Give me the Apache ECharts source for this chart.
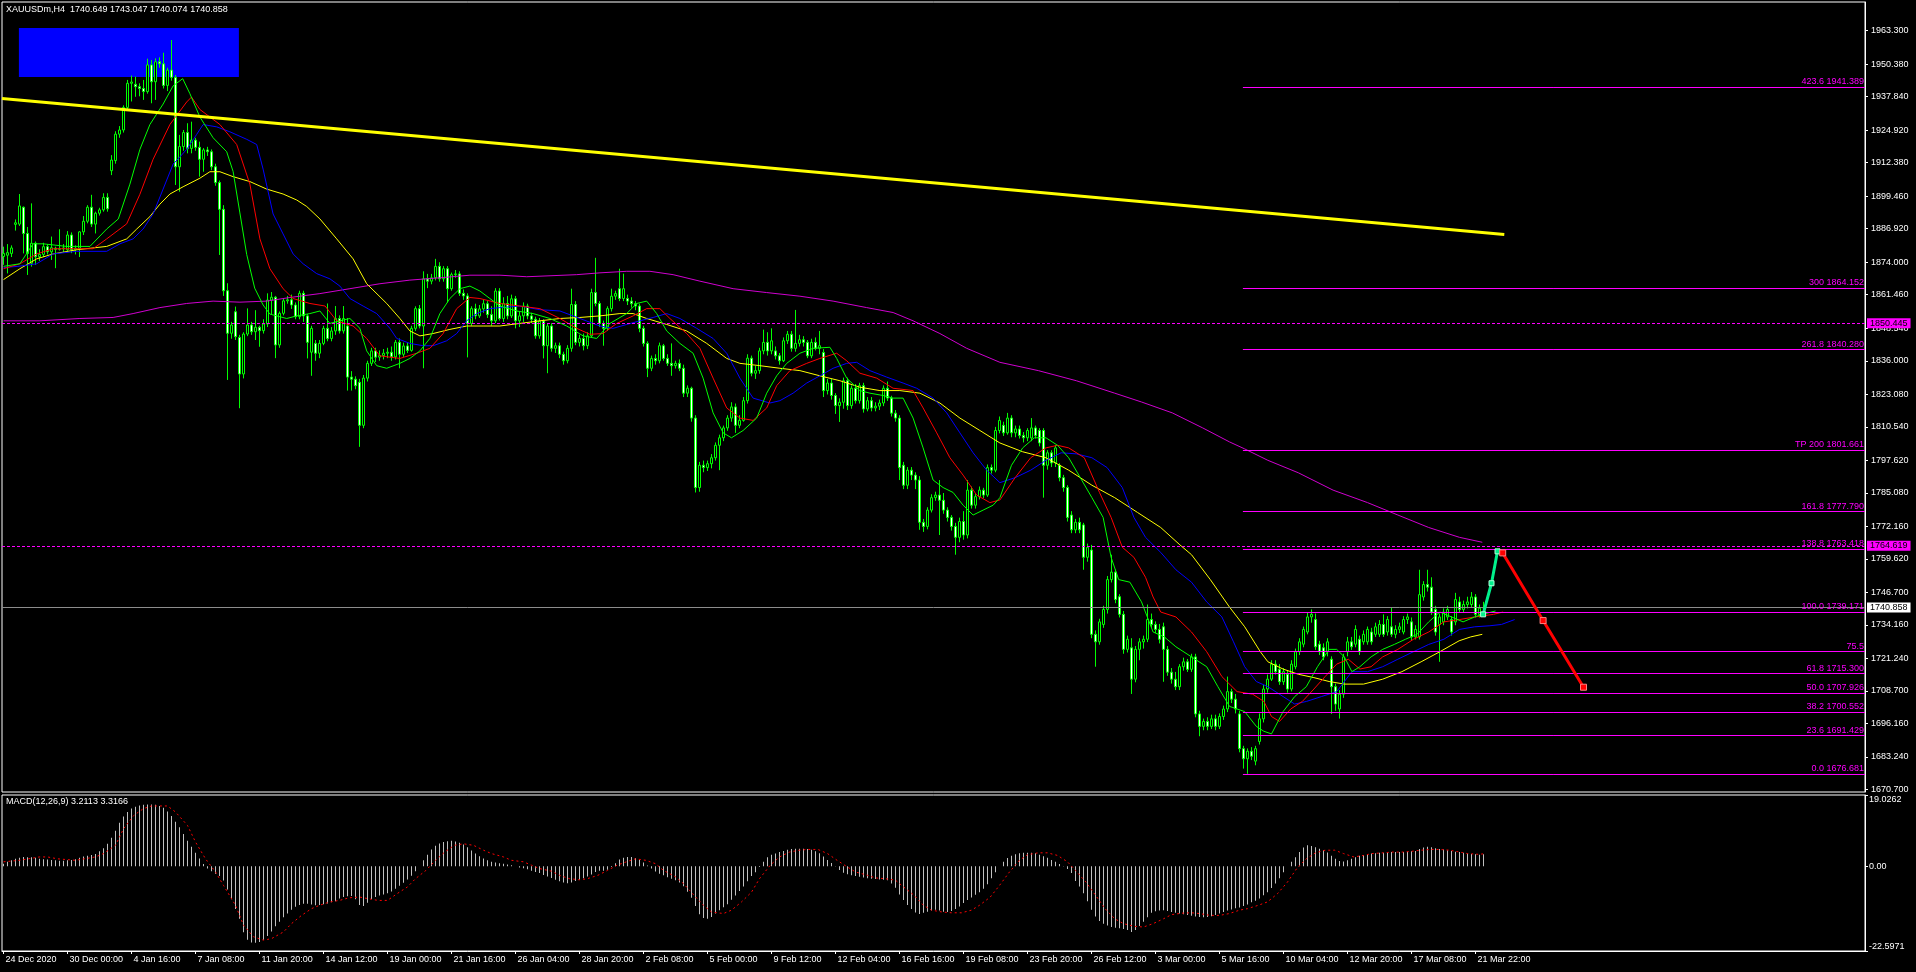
<!DOCTYPE html>
<html><head><meta charset="utf-8">
<script src="https://cdn.jsdelivr.net/npm/echarts@6/dist/echarts.min.js"></script>
<style>html,body{margin:0;padding:0;background:#000;}#c{width:1916px;height:972px;}</style>
</head><body><div id="c"></div>
<script>
// ---------------- DATA ----------------
const symbolName = 'XAUUSDm,H4';
const lastQuote = [1740.649, 1743.047, 1740.074, 1740.858];

// [open, close, low, high] per H4 bar
const ohlc = [
[1876.2,1877.4,1873.0,1880.0],[1876.7,1877.7,1869.7,1881.0],[1877.4,1879.5,1876.0,1880.5],[1888.6,1889.2,1886.2,1890.5],[1888.7,1895.7,1888.0,1900.3],
[1895.2,1885.1,1877.4,1895.5],[1885.1,1877.4,1869.1,1887.6],[1873.6,1881.3,1872.3,1896.7],[1881.3,1876.1,1873.0,1882.0],[1876.1,1877.0,1874.5,1879.0],
[1877.0,1880.0,1876.0,1881.5],[1880.0,1878.0,1877.0,1881.0],[1878.0,1879.6,1874.9,1883.9],[1879.4,1879.0,1871.7,1880.0],[1879.0,1879.2,1878.5,1886.7],
[1879.2,1879.5,1878.0,1881.0],[1878.8,1884.5,1878.0,1886.0],[1884.5,1878.8,1877.5,1885.5],[1878.8,1879.4,1877.0,1880.5],[1879.4,1885.7,1876.0,1886.0],
[1885.7,1889.8,1884.5,1891.8],[1889.8,1895.2,1889.0,1896.0],[1895.2,1888.7,1887.6,1900.0],[1888.7,1892.9,1885.1,1893.5],[1892.9,1894.2,1892.0,1895.0],
[1894.2,1899.0,1893.5,1900.6],[1899.0,1894.6,1893.5,1900.6],[1909.3,1913.4,1907.6,1915.3],[1913.2,1923.4,1912.0,1924.5],[1923.4,1925.0,1922.0,1926.5],
[1925.0,1933.7,1924.0,1934.5],[1933.7,1943.0,1933.0,1944.3],[1943.0,1943.5,1936.0,1946.0],[1942.6,1941.7,1937.8,1945.6],[1941.7,1941.0,1938.0,1943.0],
[1941.0,1939.8,1936.6,1944.3],[1939.8,1950.1,1939.0,1952.5],[1950.1,1943.6,1935.3,1952.0],[1943.6,1951.3,1936.6,1952.6],[1951.3,1950.5,1949.0,1953.0],
[1950.5,1942.2,1941.0,1954.8],[1942.2,1948.1,1940.0,1949.0],[1948.1,1945.3,1944.0,1959.7],[1945.3,1910.8,1903.8,1946.2],[1910.8,1918.6,1901.2,1923.1],
[1918.6,1924.0,1917.0,1925.0],[1924.0,1917.9,1916.0,1927.6],[1917.9,1921.1,1916.0,1928.2],[1921.1,1918.3,1917.0,1922.0],[1918.3,1913.7,1907.0,1920.5],
[1913.7,1917.3,1908.9,1918.0],[1917.3,1916.6,1915.0,1918.5],[1916.6,1910.8,1909.5,1917.5],[1910.8,1904.7,1903.5,1912.0],[1904.7,1894.4,1876.8,1905.5],
[1894.4,1863.0,1861.0,1896.0],[1863.0,1846.6,1828.6,1865.9],[1846.6,1849.8,1844.5,1851.0],[1854.9,1845.3,1844.0,1856.9],[1845.0,1830.9,1817.7,1846.0],
[1830.9,1846.3,1829.2,1847.0],[1846.3,1849.8,1845.5,1856.2],[1849.8,1847.2,1846.0,1851.0],[1847.2,1848.9,1844.0,1855.5],[1848.9,1847.6,1841.4,1849.5],
[1847.6,1850.2,1846.5,1852.0],[1850.2,1859.4,1849.0,1862.0],[1859.4,1860.5,1854.0,1862.5],[1860.5,1842.1,1837.0,1861.0],[1842.1,1854.3,1841.0,1855.0],
[1854.3,1859.1,1853.5,1860.0],[1859.1,1859.5,1858.0,1861.0],[1859.5,1857.5,1856.0,1861.5],[1857.5,1853.0,1852.0,1858.5],[1853.0,1862.0,1852.0,1863.0],
[1862.0,1853.3,1851.0,1863.0],[1853.3,1843.1,1836.9,1854.0],[1839.3,1848.5,1830.2,1849.5],[1842.7,1838.9,1836.0,1844.0],[1838.9,1842.7,1837.0,1844.0],
[1842.7,1848.5,1842.0,1849.5],[1848.5,1844.6,1843.5,1858.1],[1844.6,1847.5,1843.5,1849.0],[1847.5,1852.3,1846.0,1857.1],[1852.3,1847.5,1846.5,1853.5],
[1847.5,1852.3,1846.5,1857.1],[1849.4,1829.7,1824.5,1852.5],[1829.7,1828.9,1824.5,1832.0],[1828.9,1826.4,1825.0,1830.0],[1827.7,1811.1,1802.8,1829.0],
[1811.1,1829.3,1810.0,1830.5],[1829.3,1835.0,1828.0,1836.0],[1835.0,1839.8,1834.0,1841.0],[1839.8,1837.4,1835.5,1841.0],[1837.4,1838.0,1836.0,1840.0],
[1838.0,1838.9,1836.5,1840.5],[1838.9,1839.3,1837.0,1841.0],[1839.3,1837.5,1836.0,1841.5],[1837.5,1843.1,1836.5,1844.0],[1843.1,1838.5,1833.1,1844.6],
[1838.5,1841.7,1837.5,1843.0],[1841.7,1840.0,1839.0,1843.0],[1840.0,1848.5,1839.5,1849.5],[1848.5,1856.1,1847.5,1857.0],[1856.1,1849.4,1848.5,1857.5],
[1849.4,1867.6,1833.1,1870.5],[1867.6,1866.7,1864.0,1869.5],[1866.7,1868.0,1865.5,1869.5],[1868.0,1872.4,1867.0,1875.3],[1872.4,1867.6,1866.5,1874.0],
[1867.6,1871.5,1866.5,1872.5],[1871.5,1863.8,1858.4,1872.5],[1863.8,1869.2,1863.0,1870.0],[1869.2,1869.5,1868.0,1871.0],[1869.5,1862.0,1861.0,1870.5],
[1862.0,1861.0,1859.5,1863.5],[1861.0,1850.4,1837.3,1862.0],[1850.4,1856.1,1849.5,1857.0],[1856.1,1853.3,1852.0,1858.0],[1853.3,1856.0,1852.5,1857.5],
[1856.0,1858.0,1854.5,1859.5],[1858.0,1853.8,1852.5,1859.0],[1853.8,1851.4,1849.5,1857.0],[1851.4,1862.9,1850.5,1864.0],[1862.9,1852.3,1851.5,1864.0],
[1852.3,1858.1,1851.0,1860.5],[1858.1,1853.3,1852.0,1861.0],[1853.3,1859.9,1852.5,1861.5],[1859.9,1851.4,1848.5,1861.0],[1851.4,1853.3,1849.0,1855.0],
[1853.3,1857.1,1851.0,1858.5],[1857.1,1853.3,1852.0,1858.0],[1853.3,1852.0,1850.5,1854.5],[1852.0,1845.6,1844.5,1853.0],[1845.6,1851.3,1844.5,1852.5],
[1851.3,1841.8,1836.9,1852.0],[1841.8,1849.4,1831.2,1850.5],[1849.4,1840.8,1839.5,1850.5],[1840.8,1841.8,1839.0,1843.0],[1841.8,1838.5,1837.0,1843.0],
[1838.5,1836.0,1834.5,1839.5],[1836.0,1840.8,1835.0,1842.0],[1840.8,1857.7,1839.5,1863.8],[1857.7,1843.1,1842.0,1859.0],[1843.1,1844.6,1841.5,1846.0],
[1844.6,1841.8,1840.0,1846.5],[1841.8,1845.6,1840.5,1847.0],[1845.6,1862.3,1845.0,1863.8],[1862.3,1858.1,1857.0,1875.7],[1858.1,1850.4,1849.0,1859.0],
[1850.4,1848.5,1841.8,1851.5],[1848.5,1856.1,1847.5,1857.0],[1856.1,1860.9,1855.0,1863.8],[1860.9,1861.9,1859.5,1863.0],[1863.8,1860.0,1859.0,1871.5],
[1860.0,1863.8,1859.0,1869.6],[1860.0,1859.0,1857.5,1861.5],[1859.0,1858.0,1856.5,1860.5],[1858.0,1857.1,1855.5,1859.0],[1857.1,1848.5,1847.0,1858.0],
[1848.5,1842.7,1841.5,1849.5],[1842.7,1833.1,1829.7,1843.5],[1833.1,1836.9,1832.0,1838.0],[1836.9,1836.0,1834.5,1838.5],[1836.0,1841.8,1835.0,1843.0],
[1841.8,1836.9,1836.0,1842.5],[1836.9,1835.0,1834.0,1838.5],[1835.0,1834.1,1830.2,1842.7],[1834.1,1835.0,1833.0,1836.0],[1835.0,1833.1,1832.0,1836.5],
[1833.1,1823.5,1822.0,1834.5],[1823.5,1825.4,1822.0,1826.5],[1825.4,1813.9,1812.5,1826.0],[1813.9,1787.1,1785.2,1815.0],[1787.1,1795.7,1785.5,1797.0],
[1795.7,1794.8,1793.0,1797.5],[1794.8,1796.3,1793.5,1797.5],[1796.3,1798.6,1794.5,1800.0],[1798.6,1803.4,1797.5,1804.5],[1803.4,1806.3,1793.8,1807.5],
[1806.3,1810.1,1805.0,1811.0],[1810.1,1813.9,1809.0,1815.0],[1813.9,1818.2,1812.5,1820.0],[1818.2,1811.1,1808.2,1819.5],[1811.1,1813.0,1810.0,1815.0],
[1813.0,1820.6,1812.5,1822.0],[1820.6,1837.0,1819.5,1838.5],[1837.0,1831.2,1830.0,1838.0],[1831.2,1832.2,1829.0,1834.0],[1832.2,1839.8,1831.0,1841.0],
[1839.8,1843.1,1838.5,1848.0],[1843.1,1839.8,1838.0,1847.0],[1839.8,1843.7,1838.5,1848.5],[1839.8,1837.9,1836.5,1841.5],[1837.9,1836.0,1834.5,1839.0],
[1836.0,1843.7,1835.5,1845.0],[1843.7,1846.2,1842.5,1847.5],[1846.2,1840.8,1839.5,1847.5],[1840.8,1842.7,1839.5,1855.6],[1842.7,1844.1,1841.5,1846.0],
[1844.1,1843.1,1841.5,1845.5],[1843.1,1837.9,1837.0,1844.0],[1837.9,1843.1,1837.0,1844.5],[1843.1,1840.8,1840.0,1845.0],[1840.8,1841.8,1838.5,1847.5],
[1839.2,1824.5,1822.0,1840.5],[1824.5,1827.4,1823.0,1829.0],[1827.4,1822.6,1821.0,1829.0],[1822.6,1818.7,1815.5,1823.5],[1818.7,1820.0,1812.4,1821.5],
[1820.0,1828.3,1817.5,1829.5],[1828.3,1818.7,1817.0,1829.5],[1818.7,1825.4,1817.5,1826.5],[1825.4,1820.6,1819.5,1827.0],[1820.6,1826.4,1819.5,1827.5],
[1826.4,1817.4,1816.0,1827.5],[1817.4,1820.6,1816.5,1822.0],[1820.6,1817.8,1816.5,1822.0],[1817.8,1818.5,1816.5,1820.0],[1818.5,1819.7,1817.0,1821.0],
[1819.7,1825.4,1818.5,1826.5],[1825.4,1821.6,1820.5,1828.0],[1821.6,1815.8,1814.5,1822.5],[1815.8,1813.9,1812.5,1817.0],[1813.9,1794.8,1790.0,1815.0],
[1795.7,1788.0,1786.5,1797.0],[1788.0,1793.8,1786.5,1795.0],[1793.8,1791.9,1790.0,1795.0],[1791.9,1790.0,1786.5,1793.0],[1790.0,1773.7,1770.8,1791.5],
[1773.7,1772.1,1770.0,1775.0],[1772.1,1778.4,1771.0,1779.5],[1778.4,1783.2,1777.5,1784.5],[1783.2,1784.2,1782.0,1785.5],[1784.2,1782.2,1768.8,1790.0],
[1782.2,1778.4,1777.0,1785.0],[1778.4,1775.6,1774.0,1779.5],[1775.6,1772.1,1770.5,1776.5],[1772.1,1767.9,1761.2,1773.5],[1767.9,1774.0,1766.0,1775.5],
[1774.0,1768.8,1767.0,1778.0],[1768.8,1786.1,1767.5,1790.0],[1786.1,1780.3,1779.0,1787.5],[1780.3,1783.6,1779.0,1785.0],[1783.6,1786.1,1782.5,1787.5],
[1786.1,1784.2,1783.0,1787.0],[1784.2,1794.8,1783.5,1796.0],[1794.8,1793.8,1792.5,1796.0],[1793.8,1809.1,1793.0,1810.5],[1809.1,1813.0,1808.0,1814.5],
[1811.1,1808.2,1807.0,1812.5],[1808.2,1813.9,1807.5,1815.9],[1813.9,1808.2,1806.5,1815.0],[1808.2,1809.7,1806.5,1811.0],[1809.7,1807.2,1806.0,1811.0],
[1807.2,1806.3,1804.5,1808.5],[1806.3,1809.1,1805.0,1810.0],[1806.2,1810.1,1805.0,1813.9],[1810.1,1807.2,1806.0,1811.0],[1809.1,1804.3,1803.0,1810.0],
[1809.1,1795.7,1783.2,1810.0],[1795.7,1800.5,1794.0,1801.5],[1800.5,1796.6,1795.0,1801.5],[1796.6,1802.4,1795.0,1803.5],[1795.7,1790.9,1789.5,1796.5],
[1790.9,1787.1,1785.5,1792.0],[1787.1,1775.6,1774.0,1788.0],[1776.5,1770.8,1769.5,1778.0],[1770.8,1773.7,1769.5,1775.0],[1773.7,1770.8,1769.5,1775.5],
[1772.7,1760.2,1755.4,1773.5],[1760.2,1764.0,1758.5,1765.5],[1763.0,1730.5,1729.0,1765.0],[1730.5,1727.6,1718.0,1732.0],[1727.6,1735.3,1726.5,1736.5],
[1734.3,1740.1,1733.0,1741.5],[1740.1,1751.6,1738.5,1753.0],[1751.6,1754.5,1750.5,1761.2],[1754.5,1743.9,1742.5,1755.5],[1745.0,1738.2,1737.0,1746.0],
[1738.2,1724.7,1723.0,1739.5],[1724.7,1728.6,1723.5,1730.0],[1725.3,1713.2,1707.5,1729.0],[1713.2,1724.7,1712.0,1726.0],[1724.7,1727.6,1720.5,1729.0],
[1727.6,1728.6,1725.0,1730.0],[1728.6,1736.2,1727.5,1742.0],[1736.2,1734.3,1733.0,1738.5],[1734.3,1732.4,1731.0,1735.5],[1732.4,1728.6,1727.0,1734.5],
[1733.4,1724.7,1712.2,1735.0],[1724.7,1715.9,1714.5,1726.0],[1715.9,1713.2,1711.5,1717.5],[1713.2,1710.3,1709.0,1716.0],[1710.3,1718.0,1709.0,1719.0],
[1718.0,1719.9,1716.5,1721.5],[1719.9,1717.0,1716.0,1721.0],[1717.0,1721.8,1716.0,1723.0],[1721.8,1699.8,1698.5,1723.0],[1699.8,1695.0,1691.2,1701.0],
[1695.0,1696.9,1693.5,1698.0],[1696.9,1695.0,1693.5,1698.5],[1695.0,1697.9,1694.0,1699.5],[1697.9,1695.0,1693.5,1699.5],[1695.0,1698.8,1694.0,1700.0],
[1698.8,1701.7,1697.5,1703.0],[1701.7,1708.4,1700.5,1714.2],[1708.4,1705.5,1704.0,1709.5],[1705.5,1701.7,1700.0,1707.5],[1699.8,1686.4,1685.0,1701.0],
[1686.4,1682.5,1678.7,1687.5],[1682.5,1685.4,1676.7,1686.5],[1685.4,1683.5,1682.0,1687.0],[1681.6,1686.4,1680.0,1687.5],[1689.2,1697.9,1688.0,1700.0],
[1697.9,1709.4,1696.5,1711.0],[1709.4,1713.2,1708.0,1715.0],[1713.2,1719.0,1712.5,1720.5],[1719.0,1716.1,1715.0,1720.5],[1717.0,1712.2,1711.0,1719.0],
[1712.2,1716.1,1711.0,1717.5],[1715.1,1709.4,1708.0,1716.5],[1709.4,1719.0,1708.5,1720.5],[1718.0,1723.8,1717.0,1725.0],[1723.8,1727.6,1722.5,1729.0],
[1726.7,1732.4,1725.5,1733.5],[1731.4,1737.2,1730.5,1739.0],[1737.2,1738.2,1735.0,1740.1],[1736.2,1725.7,1724.5,1738.5],[1726.7,1723.8,1722.5,1728.0],
[1725.3,1721.8,1720.5,1727.0],[1723.8,1727.6,1722.0,1729.0],[1720.9,1710.3,1699.8,1722.0],[1710.3,1703.6,1701.0,1711.5],[1701.7,1707.4,1698.0,1709.0],
[1707.4,1721.8,1706.0,1723.0],[1723.8,1727.6,1722.0,1729.5],[1727.6,1725.7,1724.5,1729.5],[1726.7,1732.4,1725.5,1734.0],[1728.6,1723.8,1722.5,1730.0],
[1727.6,1730.5,1726.5,1732.0],[1727.6,1732.4,1726.5,1733.5],[1731.4,1727.6,1726.5,1733.0],[1730.5,1733.4,1729.5,1735.0],[1730.5,1734.3,1729.5,1736.0],
[1734.3,1730.5,1729.5,1738.2],[1731.4,1736.2,1730.0,1737.5],[1733.4,1730.5,1729.5,1741.0],[1730.5,1732.4,1729.0,1734.0],[1732.4,1733.4,1731.0,1735.0],
[1731.4,1736.2,1730.5,1737.5],[1736.2,1737.2,1734.5,1738.5],[1735.3,1729.5,1728.0,1737.0],[1729.5,1732.4,1728.5,1734.0],[1729.5,1745.8,1728.5,1755.4],
[1744.9,1749.7,1743.5,1751.0],[1749.7,1748.7,1747.0,1755.4],[1748.7,1739.1,1738.0,1752.5],[1740.1,1731.4,1730.0,1741.5],[1734.3,1737.2,1719.9,1738.5],
[1735.3,1739.1,1734.0,1740.5],[1737.2,1740.1,1736.0,1741.5],[1736.2,1731.4,1730.0,1737.5],[1735.3,1743.9,1734.0,1746.5],[1743.0,1740.1,1739.0,1745.0],
[1740.1,1742.0,1739.0,1743.5],[1742.0,1743.0,1740.5,1745.0],[1742.0,1744.9,1741.0,1746.8],[1744.9,1738.2,1737.0,1746.0],[1738.2,1740.6,1737.0,1742.0],
[1740.649,1740.858,1740.074,1743.047]
];

const xTickBars = [0,16,32,48,64,80,96,112,128,144,160,176,192,208,224,240,256,272,288,304,320,336,352,368];
const xTickLabels = ['24 Dec 2020','30 Dec 00:00','4 Jan 16:00','7 Jan 08:00','11 Jan 20:00','14 Jan 12:00','19 Jan 00:00','21 Jan 16:00','26 Jan 04:00','28 Jan 20:00','2 Feb 08:00','5 Feb 00:00','9 Feb 12:00','12 Feb 04:00','16 Feb 16:00','19 Feb 08:00','23 Feb 20:00','26 Feb 12:00','3 Mar 00:00','5 Mar 16:00','10 Mar 04:00','12 Mar 20:00','17 Mar 08:00','21 Mar 22:00'];
const priceTicks = [1963.300,1950.380,1937.840,1924.920,1912.380,1899.460,1886.920,1874.000,1861.460,1848.540,1836.000,1823.080,1810.540,1797.620,1785.080,1772.160,1759.620,1746.700,1734.160,1721.240,1708.700,1696.160,1683.240,1670.700];
const macdTicks = [-22.5971, 0, 19.0262];

// Alligator lines (lips green, teeth red, jaw blue) and moving averages, read as [bar, price]
const maGreen = [[0,1872.4],[4.1,1873.4],[7.4,1881.1],[9.9,1881.1],[15.8,1880.1],[21.6,1880.1],[25.8,1886.8],[28.7,1890.7],[31.6,1904.1],[34.1,1917.5],[36.6,1927.1],[39.9,1935.0],[42.4,1942.0],[44.8,1944.8],[46.6,1939.0],[49.1,1930.0],[52.4,1922.0],[55.8,1916.6],[57.4,1909.0],[59.1,1893.0],[60.8,1877.0],[62.8,1864.0],[64.9,1857.5],[66.6,1854.0],[68.3,1853.3],[70.8,1852.3],[73.3,1853.3],[76.6,1854.2],[79.1,1855.2],[81.6,1850.4],[84.1,1851.4],[86.6,1852.3],[89.1,1848.5],[90.8,1839.8],[93.3,1834.1],[95.8,1833.1],[99.1,1835.0],[101.6,1836.9],[104.1,1839.8],[106.6,1844.6],[109.1,1854.2],[111.6,1860.0],[114.1,1863.8],[116.6,1864.8],[119.1,1862.9],[121.6,1860.0],[124.1,1857.1],[128.3,1855.2],[132.4,1854.2],[136.6,1852.3],[140.8,1849.4],[144.9,1845.6],[148.3,1844.6],[151.6,1850.4],[155.8,1854.2],[158.3,1858.1],[160.8,1859.0],[163.3,1854.2],[165.8,1847.5],[169.1,1842.7],[172.4,1838.9],[174.9,1829.3],[177.4,1815.9],[179.9,1808.2],[182,1806.3],[184.9,1809.1],[188.3,1813.9],[190.8,1823.5],[193.3,1830.2],[195.8,1835.0],[199.1,1838.9],[202.4,1840.8],[206.6,1841.2],[208.3,1836.9],[210.8,1829.3],[214.1,1824.5],[216.6,1823.5],[219.9,1822.6],[222.4,1821.6],[224.9,1821.6],[227.4,1813.9],[229.9,1802.4],[232.4,1790.0],[234.9,1787.1],[237.4,1785.2],[239.9,1780.3],[242.4,1776.5],[244.9,1778.4],[247.4,1780.3],[249.1,1783.2],[252,1795.7],[254.8,1802.4],[257.7,1806.3],[260.6,1806.3],[263.5,1803.4],[266.3,1798.6],[269.2,1790.9],[272.1,1783.2],[274.9,1775.6],[276.9,1760.2],[278.8,1751.6],[281.6,1750.6],[284.5,1743.0],[287.4,1731.4],[290.2,1729.5],[293.1,1725.7],[297,1721.8],[300.8,1718.0],[303.6,1710.3],[306.5,1702.7],[310.3,1700.7],[313.2,1695.0],[315.1,1693.1],[317,1692.1],[319.9,1700.7],[322.8,1706.5],[325.7,1710.3],[328.5,1718.0],[331.4,1724.7],[333.3,1724.7],[335.2,1721.8],[337.1,1716.1],[339.1,1718.0],[341.9,1721.8],[344.8,1724.7],[347.7,1726.6],[350.5,1728.6],[353.4,1730.5],[356.3,1735.3],[359.1,1739.1],[362,1737.2],[364.9,1735.3],[367.8,1737.2],[369.7,1738.2],[373,1739.5]];
const maRed = [[0,1871.5],[4.1,1873.4],[8.3,1877.2],[12.4,1879.2],[22.4,1879.2],[25.8,1883.0],[30.8,1888.8],[34.1,1900.2],[37.4,1913.7],[41.6,1927.1],[45.8,1935.8],[47,1937.7],[49.1,1932.9],[54.1,1927.1],[58.3,1919.4],[61.6,1904.1],[64.1,1883.0],[66.6,1871.5],[69.9,1863.8],[72.4,1860.0],[76.6,1858.1],[80.4,1857.1],[83.3,1851.4],[87.4,1849.4],[90.8,1844.6],[94.1,1837.9],[99.1,1836.9],[103.3,1838.9],[106.6,1840.8],[109.9,1846.5],[113.3,1856.1],[116.6,1860.4],[119.1,1860.0],[124.1,1858.1],[129.1,1857.1],[134.1,1856.1],[139.1,1852.3],[143.3,1848.5],[146.6,1846.2],[149.9,1846.5],[153.3,1850.4],[157.4,1853.3],[160.8,1856.1],[164.1,1856.1],[166.6,1852.3],[170.8,1846.5],[174.1,1840.8],[177.4,1829.3],[180.8,1817.8],[184.1,1813.9],[187.4,1813.0],[190.8,1817.8],[193.3,1826.4],[196.6,1832.2],[200.8,1835.0],[204.1,1836.9],[208.3,1838.9],[210.8,1836.0],[214.1,1831.2],[218.3,1829.3],[222.4,1825.4],[227.4,1824.5],[229.9,1817.8],[233.3,1808.2],[236.6,1798.6],[239.9,1791.9],[243.3,1784.2],[246.6,1781.3],[249.1,1782.3],[252.9,1790.9],[256.8,1798.6],[260.6,1802.4],[263.5,1803.4],[266.3,1802.4],[270.2,1798.6],[274,1785.2],[276.9,1775.6],[279.7,1764.1],[282.6,1760.2],[285.5,1752.5],[287.4,1744.9],[289.3,1739.1],[293.1,1737.2],[297,1731.4],[300.8,1723.8],[304.6,1714.2],[308.4,1708.4],[312.3,1707.4],[315.1,1704.6],[317,1698.8],[319,1696.9],[321.8,1701.7],[324.7,1704.6],[327.6,1709.4],[330.4,1714.2],[333.3,1719.0],[336.2,1720.9],[339.1,1717.1],[341.9,1718.0],[344.8,1721.8],[348.6,1724.7],[352.5,1728.6],[356.3,1731.4],[360.1,1735.3],[364,1736.2],[367.8,1737.2],[372.5,1738.2],[374.9,1739.1]];
const maBlue = [[0,1871.9],[4.1,1872.5],[8.3,1873.4],[12.4,1877.2],[18.3,1878.2],[25.8,1878.2],[29.1,1881.1],[32.4,1883.0],[34.9,1886.8],[37.4,1892.6],[39.9,1902.2],[42.4,1911.8],[45.8,1917.5],[48.3,1923.3],[49.9,1927.1],[53.3,1926.2],[56.6,1924.3],[60.8,1921.4],[63.3,1919.4],[64.9,1909.9],[67.4,1892.6],[69.9,1884.9],[72.4,1877.2],[74.9,1873.4],[78.3,1869.6],[81.6,1867.6],[84.1,1864.8],[86.6,1860.0],[89.9,1857.1],[93.3,1854.2],[96.6,1848.5],[98.3,1844.6],[101.6,1842.7],[104.9,1841.8],[107.4,1841.8],[110.8,1843.7],[113.3,1846.5],[115.8,1851.4],[118.3,1854.2],[121.6,1856.1],[124.1,1856.5],[129.1,1857.1],[134.1,1855.7],[139.1,1855.2],[144.1,1852.3],[149.1,1849.4],[152.4,1848.5],[155.8,1850.0],[159.1,1851.4],[162.4,1852.7],[165.8,1854.2],[169.1,1852.3],[173.3,1848.5],[177.4,1844.6],[180.8,1838.9],[184.1,1829.3],[187.4,1821.6],[191.6,1819.7],[194.1,1820.6],[197.4,1823.5],[200.8,1827.4],[204.1,1830.2],[207.4,1833.1],[210.8,1835.0],[213.3,1835.4],[216.6,1832.2],[220.8,1829.7],[224.9,1827.4],[228.3,1825.4],[232.4,1821.6],[235.8,1815.9],[239.1,1808.2],[242.4,1800.5],[245.8,1793.8],[249.1,1789.0],[252.9,1790.9],[256.8,1793.8],[260.6,1797.6],[264.4,1800.5],[268.2,1800.1],[272.1,1798.6],[275.9,1794.8],[279.7,1787.1],[282.6,1775.6],[285.5,1767.9],[289.3,1762.1],[293.1,1755.4],[297,1750.6],[300.8,1743.0],[304.6,1737.2],[307.5,1727.6],[310.3,1718.0],[313.2,1712.3],[316.1,1710.3],[319.9,1706.5],[322.8,1703.6],[325.7,1704.6],[329.5,1706.5],[333.3,1708.4],[337.1,1716.1],[341,1716.1],[344.8,1718.0],[348.6,1720.9],[352.5,1723.8],[356.3,1726.6],[360.1,1728.6],[364,1732.4],[367.8,1733.4],[371.6,1733.8],[374.5,1734.3],[377.8,1736.2]];
const maYellow = [[0,1867.3],[4.1,1871.5],[8.3,1875.3],[12.4,1877.2],[18.3,1878.8],[25.8,1880.1],[30.8,1883.0],[33.3,1886.8],[36.6,1891.6],[39.1,1896.4],[41.6,1900.3],[44.9,1903.1],[49.1,1906.4],[51.6,1908.9],[54.1,1908.9],[57.4,1907.0],[61.6,1905.1],[65.8,1902.2],[69.9,1900.3],[73.3,1898.0],[75.8,1895.5],[79.1,1890.7],[83.3,1883.0],[87.4,1875.3],[90.8,1865.7],[95.8,1858.1],[99.1,1852.3],[101.6,1847.5],[104.1,1845.6],[107.4,1846.5],[111.6,1848.1],[115.8,1849.4],[119.9,1849.4],[124.1,1849.4],[129.1,1850.4],[134.1,1851.4],[139.1,1852.3],[144.1,1852.7],[149.1,1853.3],[154.1,1854.2],[157.4,1854.2],[160.8,1852.3],[165.8,1850.0],[170.8,1847.5],[175.8,1842.7],[180.8,1836.9],[184.1,1835.0],[189.1,1834.1],[194.1,1833.1],[199.1,1832.2],[204.1,1830.2],[209.1,1828.3],[214.1,1825.8],[219.1,1824.5],[224.1,1824.5],[229.1,1823.5],[234.1,1819.7],[239.1,1813.9],[244.1,1809.1],[249.1,1804.3],[254.8,1800.9],[260.6,1798.6],[266.3,1793.8],[272.1,1788.0],[277.8,1783.2],[283.5,1777.5],[289.3,1771.7],[294.1,1765.0],[297,1761.2],[301.7,1751.6],[306.5,1741.0],[310.3,1733.4],[314.2,1723.8],[316.1,1719.9],[319.9,1717.1],[323.7,1715.1],[327.6,1713.8],[331.4,1712.3],[335.2,1711.3],[340,1711.3],[344.8,1713.2],[349.6,1716.1],[354.4,1719.9],[359.1,1723.8],[363.9,1728.0],[366.8,1729.5],[369.7,1730.5]];
const maMagenta = [[0,1851.4],[9.1,1851.4],[19.1,1852.3],[27.4,1852.7],[32.4,1854.2],[39.1,1856.5],[45.8,1858.1],[52.4,1859.0],[59.1,1858.6],[65.8,1859.0],[71.6,1860.4],[79.1,1861.9],[86.6,1863.8],[94.1,1865.7],[101.6,1867.1],[109.1,1868.0],[116.6,1869.0],[124.1,1869.0],[130.8,1868.4],[143.3,1869.2],[149.1,1869.9],[155.8,1870.5],[161.6,1870.5],[167.4,1869.2],[174.1,1866.7],[182.4,1863.8],[190.8,1862.3],[199.1,1860.9],[207.4,1859.0],[215.8,1856.5],[222.4,1854.6],[227.4,1851.4],[234.1,1846.5],[240.8,1840.8],[249.1,1835.4],[258.7,1832.2],[268.2,1828.3],[277.8,1823.5],[284.5,1820.1],[292.2,1815.9],[299.8,1810.1],[306.5,1804.7],[310.3,1802.0],[316.1,1797.6],[323.7,1792.8],[332.4,1786.1],[341,1781.3],[348.6,1776.5],[356.3,1771.7],[364,1767.9],[369.7,1766.0]];

// MACD(12,26,9) histogram per bar and signal line
const macdHist = [
0.7,1.2,1.6,2.0,2.3,2.5,2.4,2.4,2.3,2.0,1.9,1.8,1.7,1.6,1.5,1.5,1.6,1.7,1.9,2.3,
2.6,2.8,3.0,3.3,4.0,4.8,6.0,7.6,9.5,11.6,13.3,14.5,15.4,15.9,16.2,16.4,16.5,16.5,16.4,16.1,
15.6,14.6,13.4,11.9,10.4,8.6,6.8,5.2,3.6,2.1,0.6,-0.6,-1.3,-2.0,-2.6,-3.8,-6.2,-8.8,-11.4,-14.0,
-17.6,-19.6,-20.3,-20.4,-20.2,-19.6,-18.6,-17.4,-16.0,-14.8,-13.6,-12.6,-11.6,-10.8,-10.3,-10.0,-10.0,-10.2,-10.4,-10.3,
-10.1,-9.9,-9.6,-9.3,-8.6,-8.2,-8.0,-7.9,-8.8,-10.3,-10.6,-9.7,-8.7,-8.2,-7.8,-7.5,-7.2,-6.7,-6.0,-5.2,
-4.4,-3.5,-2.5,-1.3,0.0,1.6,3.1,4.5,5.5,6.1,6.5,6.7,6.8,6.6,6.3,5.8,5.1,4.2,3.4,2.7,
2.1,1.6,1.2,1.0,0.8,0.7,0.5,0.3,0.0,-0.3,-0.5,-0.8,-1.2,-1.5,-1.8,-2.3,-2.7,-3.1,-3.6,-4.0,
-4.3,-4.5,-4.3,-3.9,-3.6,-3.2,-2.7,-2.2,-1.5,-1.2,-1.2,-0.9,-0.2,0.8,1.8,2.3,2.5,2.5,2.2,1.7,
1.0,0.2,-0.6,-1.4,-2.0,-2.4,-2.9,-3.3,-3.7,-4.3,-5.3,-6.8,-8.4,-10.6,-12.8,-13.8,-14.0,-13.5,-12.6,-11.7,
-10.9,-10.1,-8.9,-7.8,-6.6,-5.4,-4.0,-2.6,-1.6,-0.2,1.2,2.4,3.1,3.4,3.8,4.1,4.4,4.6,4.7,4.7,
4.7,4.6,4.4,4.0,3.5,2.6,1.7,0.9,0.1,-1.0,-1.7,-2.1,-2.4,-2.6,-2.8,-3.0,-3.2,-3.3,-3.4,-3.5,
-3.6,-3.7,-4.6,-5.7,-7.5,-9.0,-10.3,-11.4,-12.3,-12.7,-12.4,-12.1,-11.8,-11.6,-11.8,-12.1,-12.2,-11.9,-11.4,-10.7,
-9.8,-9.0,-8.3,-7.6,-6.9,-6.0,-4.8,-3.2,-1.6,0.0,1.2,2.2,2.8,3.2,3.5,3.6,3.6,3.6,3.5,3.1,
2.7,2.3,1.7,1.2,0.6,0.1,-0.7,-1.8,-3.9,-5.4,-7.2,-9.3,-11.6,-13.4,-14.6,-15.3,-15.8,-16.2,-16.4,-16.5,
-16.7,-17.0,-17.5,-17.0,-15.9,-14.8,-13.6,-12.4,-12.0,-11.8,-11.7,-11.9,-12.2,-12.4,-12.6,-12.8,-13.0,-13.2,-13.4,-13.5,
-13.6,-13.5,-13.3,-13.0,-12.6,-12.2,-11.8,-11.5,-11.2,-11.0,-10.6,-10.2,-9.6,-9.2,-8.6,-7.7,-6.9,-5.8,-4.6,-3.2,
-1.6,0.0,1.2,2.4,3.8,5.0,5.6,5.4,5.1,4.7,4.3,3.7,2.8,2.0,1.4,1.3,1.6,2.0,2.4,2.8,
3.0,3.2,3.4,3.5,3.6,3.6,3.7,3.8,3.8,3.8,3.8,3.9,4.0,4.1,4.6,5.0,5.2,5.1,4.8,4.6,
4.5,4.3,4.1,3.9,3.8,3.6,3.4,3.3,3.2,3.1,3.2113
];
const macdSignal = [[0,1.2],[4,1.6],[9,2.5],[11,2.5],[13.5,2.0],[18,1.6],[23,2.5],[25,3.4],[28,5.6],[30,10.0],[32.6,13.6],[35,15.4],[37,16.1],[41,16.1],[43,14.5],[46,10.9],[48,6.5],[50.5,2.0],[53,-1.5],[55,-5.1],[58,-10.4],[60,-15.7],[62.5,-18.8],[65,-19.7],[67,-19.3],[70,-17.5],[72,-15.3],[74.5,-13.1],[77,-11.3],[79,-10.4],[81.6,-9.5],[84,-9.1],[86.4,-8.4],[89,-8.2],[91,-8.6],[93.6,-9.1],[96,-9.1],[98.4,-7.3],[101,-5.5],[103,-3.3],[105.6,-1.1],[108,1.6],[110.3,3.8],[112.7,5.6],[115,6.0],[117.5,5.6],[120,4.3],[122,3.4],[125,2.5],[127,1.6],[130,1.2],[132,0.3],[134,-0.6],[137,-1.3],[139,-2.4],[141.5,-3.3],[144,-3.6],[146,-3.3],[148.6,-2.4],[151,-1.1],[153.4,0.3],[156,1.3],[158,2.0],[160.6,1.6],[163,0.7],[165,-1.1],[168,-2.8],[170,-4.6],[172.6,-7.7],[175,-10.4],[177,-12.2],[180,-12.6],[182,-11.7],[184.5,-9.5],[187,-6.9],[189,-3.3],[191.7,0.3],[194,2.5],[196.5,3.8],[199,4.3],[201,4.5],[203.6,4.5],[206,3.4],[208.4,1.6],[211,-0.2],[213,-1.5],[216,-2.4],[218,-3.1],[220.4,-3.3],[223,-3.7],[225,-5.5],[227.6,-7.7],[230,-10.4],[232,-11.7],[234.7,-12.2],[237,-12.4],[239.5,-12.4],[242,-11.7],[244,-10.4],[246.7,-8.2],[249,-5.1],[251.5,-1.5],[254,1.6],[256,3.1],[258.7,3.6],[261,3.6],[263.5,2.9],[266,1.2],[268,-1.1],[270.6,-4.2],[273,-7.7],[275.4,-11.3],[277.8,-14.0],[280,-15.3],[282.6,-16.0],[285,-16.2],[287.4,-15.3],[290,-14.0],[292,-12.9],[294.6,-12.5],[297,-12.4],[299,-12.6],[301.7,-13.1],[304,-13.1],[306.5,-12.6],[309,-11.7],[311,-11.3],[313.7,-10.4],[316,-9.5],[318.5,-7.3],[321,-4.2],[323.3,-0.6],[325.7,2.0],[328,3.6],[330.4,4.3],[332.8,4.3],[335,3.4],[337.6,2.5],[340,2.9],[342,3.4],[345,3.6],[347,3.8],[350,3.8],[352,4.0],[354.4,4.3],[356.8,4.5],[359,4.5],[361.5,4.3],[364,3.8],[366,3.4],[368.7,3.2],[370,3.3166]];

// Fibonacci expansion levels
const fibNames = ['423.6 1941.389','300 1864.152','261.8 1840.280','TP 200 1801.661','161.8 1777.790','138.8 1763.418','100.0 1739.171','75.5','61.8 1715.300','50.0 1707.926','38.2 1700.552','23.6 1691.429','0.0 1676.681'];
const fibValues = [1941.389,1864.152,1840.280,1801.661,1777.790,1763.418,1739.171,1723.86,1715.300,1707.926,1700.552,1691.429,1676.681];
const fibStartBar = 309.85;

// horizontal price lines
const dashedLevels = [1850.445, 1764.619];
const bidPrice = 1740.858;

// drawn objects (bar, price)
const trendLine = [[-0.375,1937.1],[375.2,1884.7]];
const boxArea = [[3.85,1964.33],[58.85,1945.43]];
const upPath = [[369.9,1738.2],[372,1750.2],[373.5,1762.5]];
const downPath = [[374.8,1761.9],[384.9,1735.8],[395.0,1710.1]];

// ---------------- CHART ----------------
const XMIN = -0.375, XMAX = 465.375;
const YMIN = 1669.69, YMAX = 1974.357;
const FONT = 'Liberation Sans';
const WHITE = '#ffffff';
const MAG = '#ff00ff';

const chart = echarts.init(document.getElementById('c'), null, {renderer: 'canvas'});

const fibLines = fibValues.map((v, k) => [
  {coord: [fibStartBar, v], label: {formatter: fibNames[k]}},
  {coord: [XMAX, v]}
]);

const priceBoxes = dashedLevels.map(v => ({
  yAxis: v,
  lineStyle: {color: MAG, type: [3, 2], width: 1},
  label: {show: true, position: 'end', formatter: v.toFixed(3), backgroundColor: MAG, color: '#000', padding: [1, 3, 0, 3], fontSize: 9, fontFamily: FONT, distance: 2}
}));
priceBoxes.push({
  yAxis: bidPrice,
  lineStyle: {color: '#8c8c8c', type: 'solid', width: 1},
  label: {show: true, position: 'end', formatter: bidPrice.toFixed(3), backgroundColor: WHITE, color: '#000', padding: [1, 3, 0, 3], fontSize: 9, fontFamily: FONT, distance: 2}
});

function maSeries(data, color) {
  return {type: 'line', xAxisIndex: 0, yAxisIndex: 0, data: data, symbol: 'none', z: 4,
    lineStyle: {color: color, width: 1}, silent: true};
}

const option = {
  backgroundColor: '#000000',
  animation: false,
  textStyle: {fontFamily: FONT},
  title: [
    {text: symbolName + '  ' + lastQuote.map(v => v.toFixed(3)).join(' '), left: 6, top: 5, padding: 0,
     textStyle: {color: WHITE, fontSize: 9, fontWeight: 'normal', fontFamily: FONT}},
    {text: 'MACD(12,26,9) ' + macdHist[macdHist.length - 1].toFixed(4) + ' ' + macdSignal[macdSignal.length - 1][1].toFixed(4), left: 6, top: 797, padding: 0,
     textStyle: {color: WHITE, fontSize: 9, fontWeight: 'normal', fontFamily: FONT}}
  ],
  grid: [
    {left: 2, top: 2, width: 1863, height: 790, show: true, borderColor: WHITE, borderWidth: 1, backgroundColor: 'transparent', containLabel: false, outerBoundsMode: 'none'},
    {left: 2, top: 795, width: 1863, height: 156, show: true, borderColor: WHITE, borderWidth: 1, backgroundColor: 'transparent', containLabel: false, outerBoundsMode: 'none'}
  ],
  xAxis: [
    {type: 'value', gridIndex: 0, min: XMIN, max: XMAX, show: false, splitLine: {show: false}},
    {type: 'value', gridIndex: 1, min: XMIN, max: XMAX, position: 'bottom',
     axisLine: {show: true, onZero: false, lineStyle: {color: WHITE, width: 1}},
     axisTick: {show: true, customValues: xTickBars, length: 3, lineStyle: {color: WHITE}},
     axisLabel: {show: true, customValues: xTickBars, color: WHITE, fontSize: 9, fontFamily: FONT, align: 'left', margin: 4, padding: [0, 0, 0, 2],
       formatter: v => xTickLabels[xTickBars.indexOf(Math.round(v))] || ''},
     splitLine: {show: false}}
  ],
  yAxis: [
    {type: 'value', gridIndex: 0, position: 'right', min: YMIN, max: YMAX,
     axisLine: {show: true, onZero: false, lineStyle: {color: WHITE, width: 1}},
     axisTick: {show: true, customValues: priceTicks, length: 3, lineStyle: {color: WHITE}},
     axisLabel: {show: true, customValues: priceTicks, color: WHITE, fontSize: 9, fontFamily: FONT, margin: 6, formatter: v => v.toFixed(3)},
     splitLine: {show: false}},
    {type: 'value', gridIndex: 1, position: 'right', min: macdTicks[0], max: macdTicks[2],
     axisLine: {show: true, onZero: false, lineStyle: {color: WHITE, width: 1}},
     axisTick: {show: true, customValues: macdTicks, length: 3, lineStyle: {color: WHITE}},
     axisLabel: {show: true, customValues: macdTicks, color: WHITE, fontSize: 9, fontFamily: FONT, margin: 4,
       verticalAlignMinLabel: 'bottom', verticalAlignMaxLabel: 'top',
       formatter: v => (v === 0 ? '0.00' : v.toFixed(4))},
     splitLine: {show: false}}
  ],
  series: [
    // blue rectangle
    {type: 'line', xAxisIndex: 0, yAxisIndex: 0, data: boxArea, symbol: 'none', lineStyle: {opacity: 0}, z: 1, silent: true,
     markArea: {silent: true, itemStyle: {color: '#0000ff', opacity: 1}, data: [[{coord: boxArea[0]}, {coord: boxArea[1]}]]}},
    // candles
    {type: 'candlestick', xAxisIndex: 0, yAxisIndex: 0, z: 3, barWidth: 2, silent: true,
     dimensions: ['bar', 'open', 'close', 'low', 'high'],
     encode: {x: 0, y: [1, 2, 3, 4]},
     data: ohlc.map((d, i) => [i, d[0], d[1], d[2], d[3]]),
     itemStyle: {color: '#000000', color0: '#ffffff', borderColor: '#00ff00', borderColor0: '#00ff00', borderColorDoji: '#00ff00', borderWidth: 1}},
    maSeries(maMagenta, '#d000d0'),
    maSeries(maYellow, '#ffff00'),
    maSeries(maBlue, '#0000ff'),
    maSeries(maRed, '#ff0000'),
    maSeries(maGreen, '#00ff00'),
    // trend line + horizontal levels + fibonacci
    {type: 'line', xAxisIndex: 0, yAxisIndex: 0, data: trendLine, symbol: 'none', z: 5, silent: true,
     lineStyle: {color: '#ffff00', width: 3},
     markLine: {silent: true, symbol: ['none', 'none'], animation: false, precision: 3,
       data: priceBoxes.concat(fibLines),
       lineStyle: {color: MAG, type: 'solid', width: 1},
       label: {show: true, position: 'insideEndTop', color: MAG, fontSize: 9, fontFamily: FONT, distance: [1, 1]},
       emphasis: {disabled: true}}},
    // forecast paths
    {type: 'line', xAxisIndex: 0, yAxisIndex: 0, data: upPath, z: 6, silent: true,
     symbol: 'rect', symbolSize: 5, showSymbol: true,
     itemStyle: {color: '#00f08c', borderColor: '#b0ffd8', borderWidth: 1},
     lineStyle: {color: '#00f08c', width: 3}},
    {type: 'line', xAxisIndex: 0, yAxisIndex: 0, data: downPath, z: 6, silent: true,
     symbol: 'rect', symbolSize: 6, showSymbol: true,
     itemStyle: {color: '#ff0000', borderColor: '#ff8080', borderWidth: 1},
     lineStyle: {color: '#ff0000', width: 3}},
    // MACD
    {type: 'bar', xAxisIndex: 1, yAxisIndex: 1, barWidth: 1, silent: true, z: 2,
     data: macdHist.map((v, i) => [i, v]),
     itemStyle: {color: '#c0c0c0'}},
    {type: 'line', xAxisIndex: 1, yAxisIndex: 1, data: macdSignal, symbol: 'none', z: 3, silent: true,
     lineStyle: {color: '#ff0000', width: 1, type: [2, 3]}}
  ]
};
chart.setOption(option);
</script>
</body></html>
